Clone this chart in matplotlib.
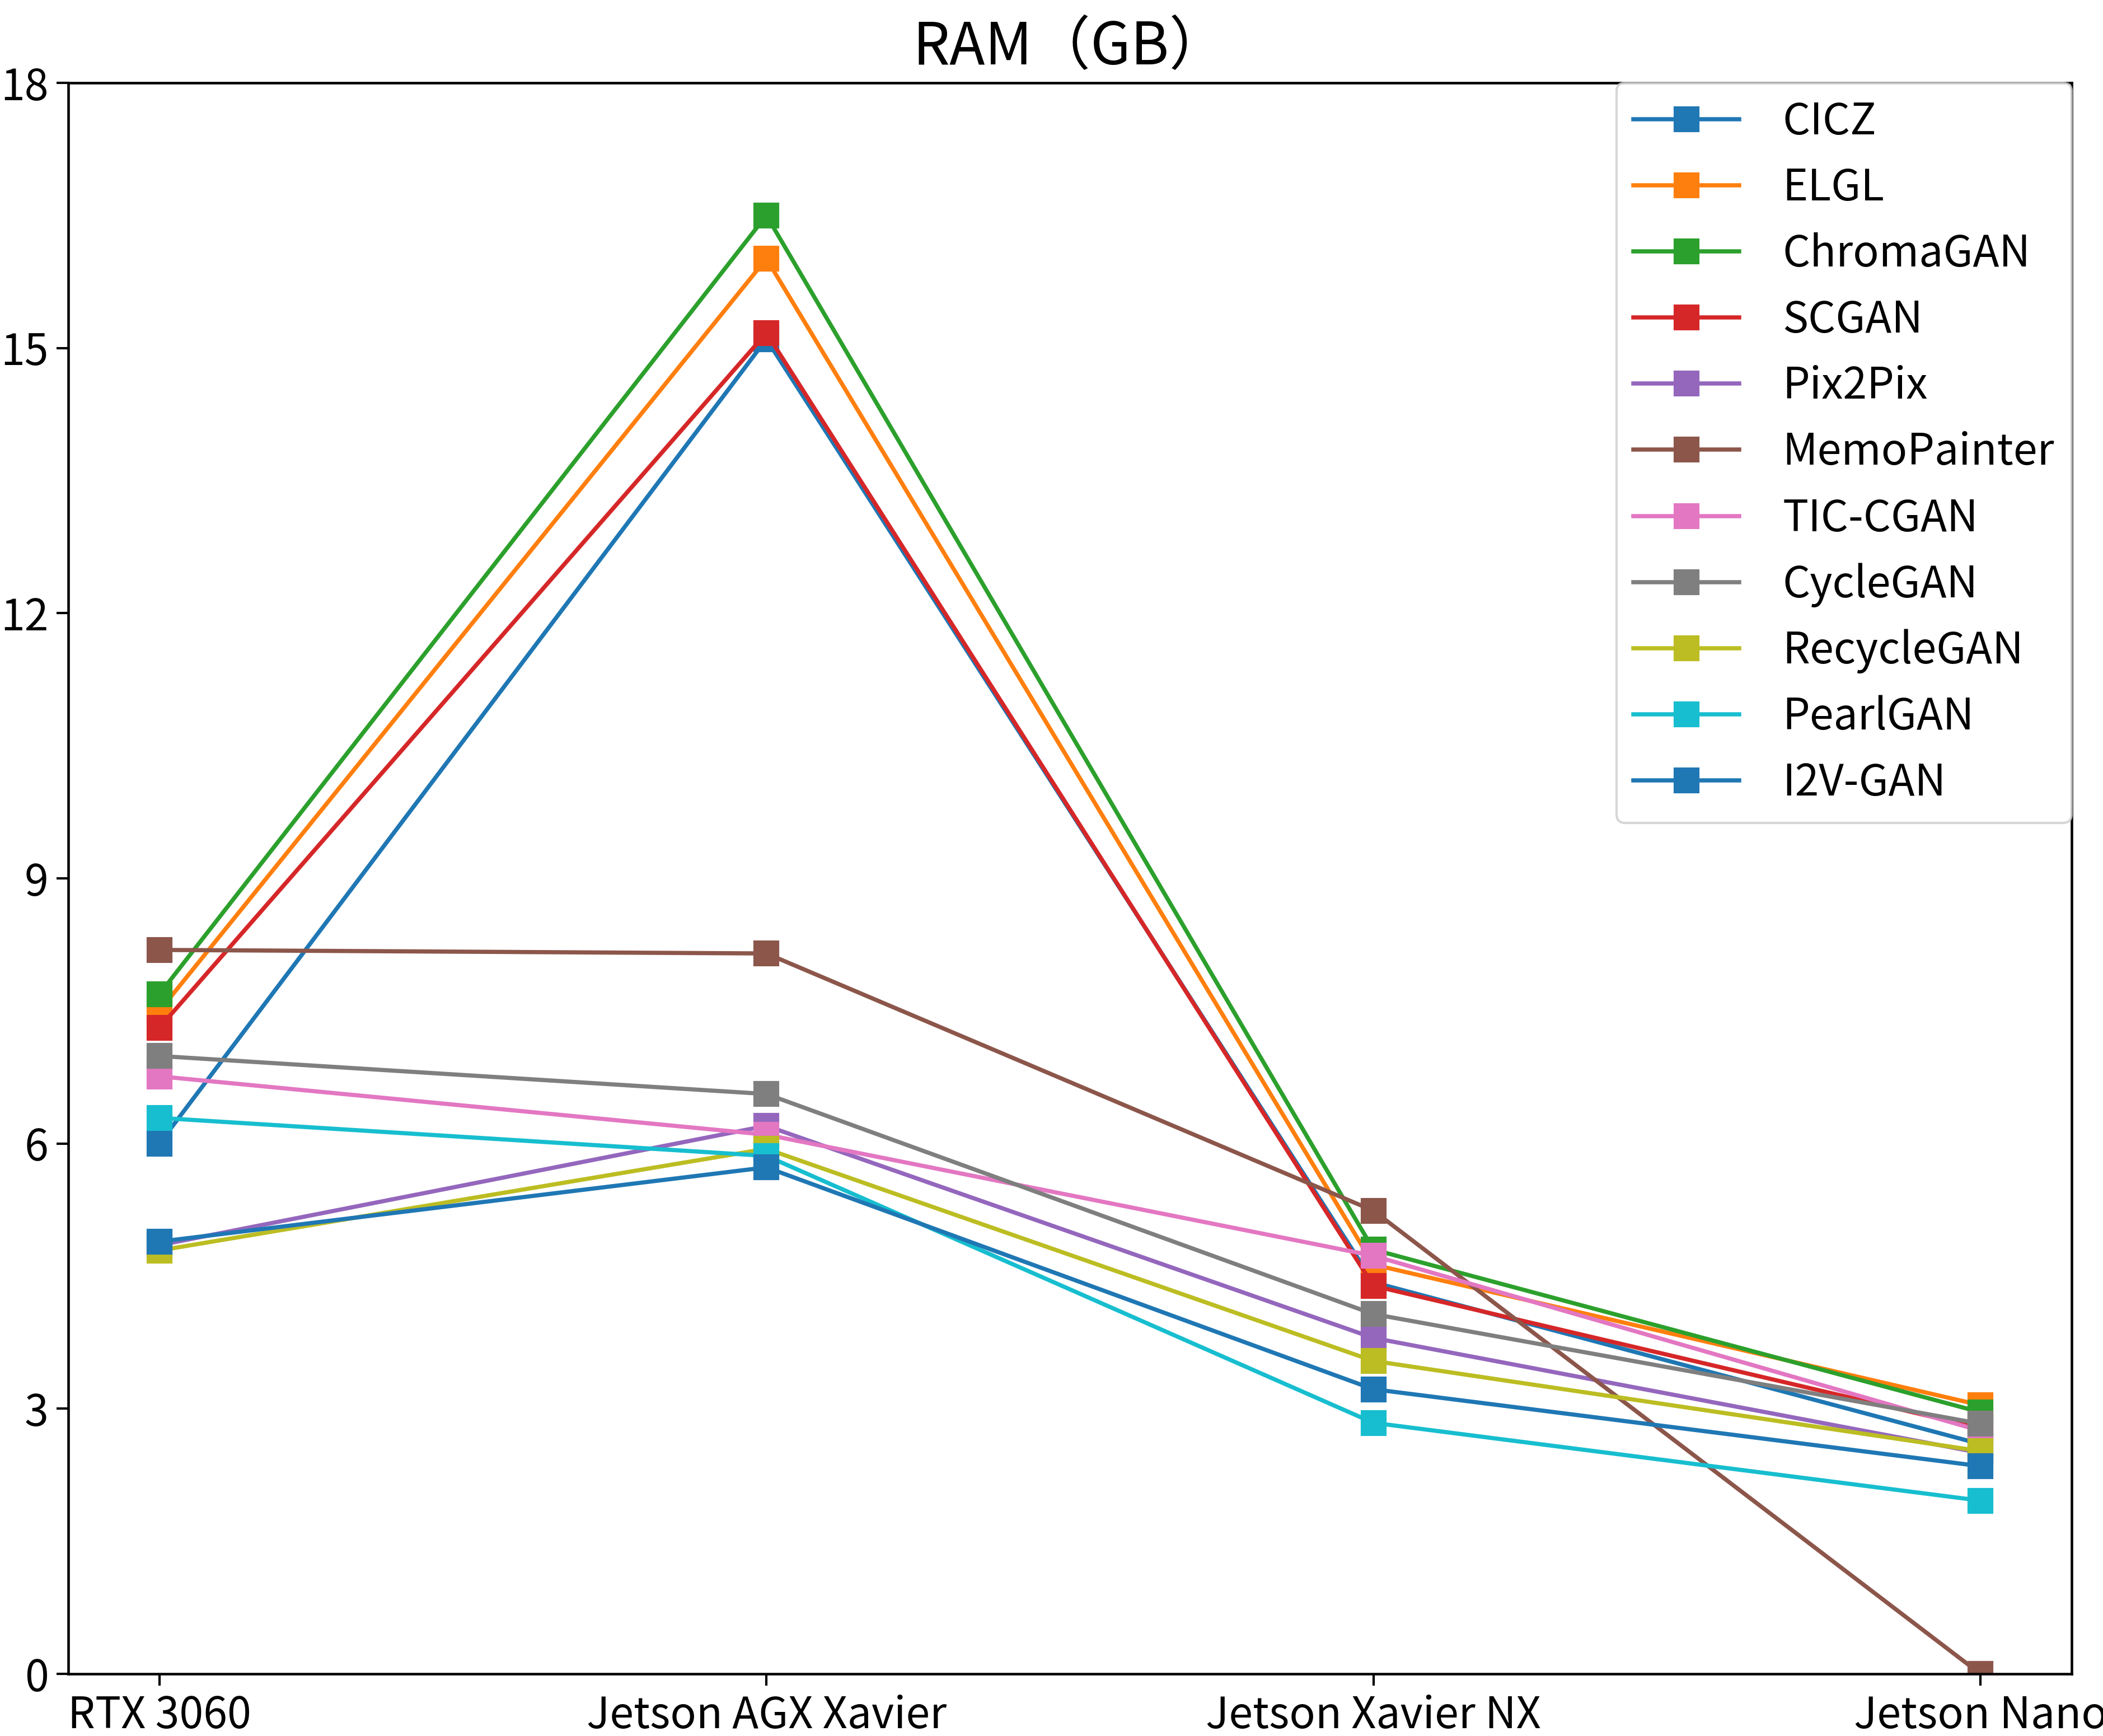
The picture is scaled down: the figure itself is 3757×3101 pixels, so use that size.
import numpy as np
from matplotlib import pyplot as plt

plt.rcParams['font.family'] = ['Noto Sans CJK SC', 'DejaVu Sans']
plt.rcParams['axes.unicode_minus'] = False

devices = ['RTX 3060', 'Jetson AGX Xavier', 'Jetson Xavier NX', 'Jetson Nano']

# RAM usage (GB) per method on each device
CICZ = [6.0, 15.1, 4.43, 2.6]
ELGL = [7.5, 16.01, 4.63, 3.04]
ChromaGAN = [7.69, 16.5, 4.8, 2.96]
SCGAN = [7.31, 15.17, 4.39, 2.78]
Pix2Pix = [4.85, 6.2, 3.8, 2.5]
MemoPainter = [8.19, 8.15, 5.24, 0.0]
TIC_CGAN = [6.76, 6.1, 4.73, 2.75]
CycleGAN = [6.99, 6.56, 4.07, 2.83]
RecycleGAN = [4.79, 5.94, 3.54, 2.52]
PearlGAN = [6.29, 5.86, 2.84, 1.96]
I2V_GAN = [4.89, 5.73, 3.22, 2.35]

names = ['CICZ', 'ELGL', 'ChromaGAN', 'SCGAN', 'Pix2Pix', 'MemoPainter',
         'TIC-CGAN', 'CycleGAN', 'RecycleGAN', 'PearlGAN', 'I2V-GAN']
series = [CICZ, ELGL, ChromaGAN, SCGAN, Pix2Pix, MemoPainter,
          TIC_CGAN, CycleGAN, RecycleGAN, PearlGAN, I2V_GAN]

fig = plt.figure(figsize=(3757/300, 3101/300), dpi=300)
ax = fig.add_axes([0.0325, 0.0358, 0.9525, 0.9165])

for name, vals in zip(names, series):
    ax.plot(devices, vals, marker='s', markersize=10, linewidth=1.8, label=name)

ax.set_ylim(0, 18)
ax.set_yticks(np.arange(0, 19, 3))
ax.tick_params(labelsize=18.5, length=5, width=1.0)
for s in ax.spines.values():
    s.set_linewidth(1.1)
ax.set_title('RAM（GB）', fontsize=25, pad=8)

ax.legend(loc='upper right', fontsize=18.5, borderaxespad=0, handlelength=2.45,
          handletextpad=1.0, labelspacing=0.5)

fig.savefig('out.png', dpi=300)
